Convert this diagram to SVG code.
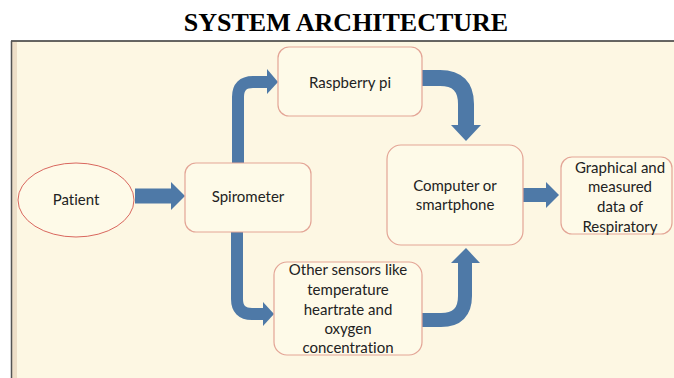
<svg xmlns="http://www.w3.org/2000/svg" width="674" height="378" viewBox="0 0 674 378">
<style>
.title{font-family:"Liberation Serif","Times New Roman",serif;font-weight:bold;font-size:26px;fill:#000}
.box{fill:#FEFAE8;stroke:#E3A596;stroke-width:1.2}
.ell{fill:#FEFAE8;stroke:#D9675E;stroke-width:1}
.lbl{font-family:Lato,"Open Sans",sans-serif;font-size:15px;fill:#222;text-anchor:middle;font-variant-ligatures:none}
.shaft{fill:none;stroke:#4E79A7}
.head{fill:#4E79A7}
</style>
<rect x="0" y="0" width="674" height="378" fill="#FFFFFF"/>
<text class="title" x="346" y="31" text-anchor="middle">SYSTEM ARCHITECTURE</text>
<rect x="11" y="41" width="663" height="337" fill="#FDF7E3"/>
<rect x="12" y="42" width="5" height="336" fill="#EEDFC8"/>
<line x1="11" y1="41" x2="674" y2="41" stroke="#333" stroke-width="1.5"/>
<line x1="11.5" y1="41" x2="11.5" y2="378" stroke="#555" stroke-width="1.5"/>

<g id="connectors">
  <path class="shaft" stroke-width="15" d="M135,196 H172"/>
  <polygon class="head" points="171,182 185,196 171,210"/>
  <path class="shaft" stroke-width="12" d="M238,163 V97 Q238,82 253,82 H268"/>
  <polygon class="head" points="267,69 278,82 267,94"/>
  <path class="shaft" stroke-width="16" d="M422,78 H440 Q466,78 466,104 V126"/>
  <polygon class="head" points="451,125 481,125 466,141"/>
  <path class="shaft" stroke-width="12" d="M237,232 V299 Q237,314 252,314 H264"/>
  <polygon class="head" points="263,302 274,314 263,326"/>
  <path class="shaft" stroke-width="14" d="M422,320 H441 Q465,320 465,296 V262"/>
  <polygon class="head" points="451,263 480,263 466,248"/>
  <path class="shaft" stroke-width="14" d="M523,195 H547"/>
  <polygon class="head" points="546,182 559,195 546,208"/>
</g>

<g id="patient">
  <ellipse class="ell" cx="76" cy="200" rx="58" ry="37"/>
  <text class="lbl" x="76" y="205">Patient</text>
</g>
<g id="spirometer">
  <rect class="box" x="185" y="163" width="126" height="69" rx="11"/>
  <text class="lbl" x="248" y="202">Spirometer</text>
</g>
<g id="raspberry">
  <rect class="box" x="278" y="47" width="144" height="69" rx="11"/>
  <text class="lbl" x="350" y="88">Raspberry pi</text>
</g>
<g id="computer">
  <rect class="box" x="387" y="145" width="136" height="100" rx="14"/>
  <text class="lbl" x="455" y="191">Computer or</text>
  <text class="lbl" x="455" y="210">smartphone</text>
</g>
<g id="graphical">
  <rect class="box" x="561" y="157" width="111" height="77" rx="11"/>
  <text class="lbl" x="620" y="173">Graphical and</text>
  <text class="lbl" x="620" y="192">measured</text>
  <text class="lbl" x="620" y="212">data of</text>
  <text class="lbl" x="620" y="232">Respiratory</text>
</g>
<g id="sensors">
  <rect class="box" x="274" y="262" width="148" height="93" rx="13"/>
  <text class="lbl" x="348" y="275">Other sensors like</text>
  <text class="lbl" x="348" y="295">temperature</text>
  <text class="lbl" x="348" y="315">heartrate and</text>
  <text class="lbl" x="348" y="334">oxygen</text>
  <text class="lbl" x="348" y="353">concentration</text>
</g>
</svg>
